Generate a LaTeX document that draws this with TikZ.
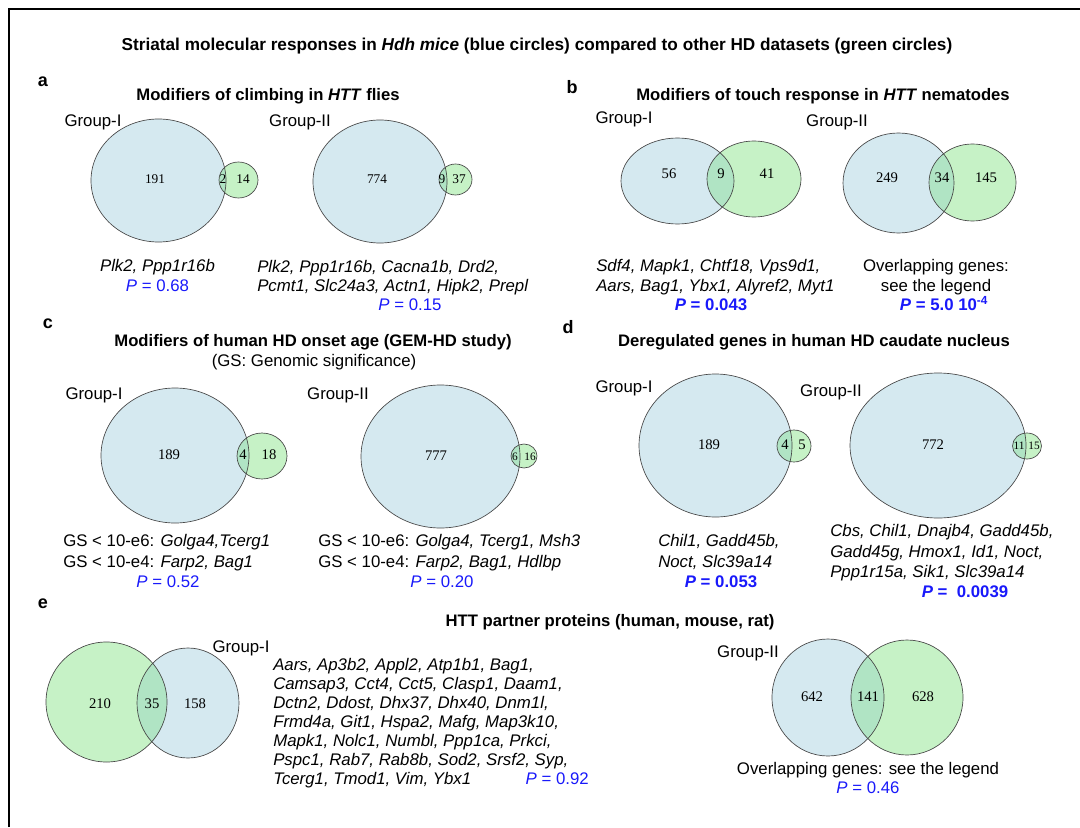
\documentclass[tikz,border=0pt]{standalone}
\usepackage{fontspec}
\setmainfont{Liberation Sans}
\newfontfamily\numfont{Liberation Serif}
\usetikzlibrary{positioning}

\definecolor{setblue}{RGB}{213,233,240}
\definecolor{setgreen}{RGB}{198,242,198}
\definecolor{setboth}{RGB}{176,228,196}
\definecolor{setedge}{RGB}{70,70,70}
\definecolor{pblue}{RGB}{25,25,250}

% one blue set and one green set, overlap shaded
\newcommand{\vennpair}[8]{%
  \fill[setblue] (#1,#2) ellipse [x radius=#3, y radius=#4];
  \fill[setgreen] (#5,#6) ellipse [x radius=#7, y radius=#8];
  \begin{scope}
    \clip (#1,#2) ellipse [x radius=#3, y radius=#4];
    \fill[setboth] (#5,#6) ellipse [x radius=#7, y radius=#8];
  \end{scope}
  \draw[setline] (#1,#2) ellipse [x radius=#3, y radius=#4];
  \draw[setline] (#5,#6) ellipse [x radius=#7, y radius=#8];
}

\begin{document}
\begin{tikzpicture}[x=0.75pt,y=-0.75pt]
% Text and set styles
\tikzset{
    setline/.style={draw=setedge, line width=0.5pt},
    lbl/.style={font=\fontsize{12.6}{14}\selectfont, inner sep=0pt, anchor=mid},
    gene/.style={font=\fontsize{12.6}{14}\selectfont\itshape, inner sep=0pt, anchor=mid west},
    head/.style={font=\fontsize{12.5}{14}\selectfont\bfseries, inner sep=0pt, anchor=mid},
    panel/.style={font=\fontsize{13.5}{15}\selectfont\bfseries, inner sep=0pt, anchor=mid},
    pval/.style={lbl, text=pblue},
    pbold/.style={lbl, text=pblue, font=\fontsize{12.6}{14}\selectfont\bfseries},
    num/.style={font=\numfont\fontsize{11}{12}\selectfont, inner sep=0pt, anchor=mid},
    numa/.style={num, font=\numfont\fontsize{10}{11}\selectfont},
    nums/.style={num, font=\numfont\fontsize{8.5}{9}\selectfont}
}
\useasboundingbox (0,0) rectangle (1080,827);

% Frame
\draw[line width=1.1pt] (9,827) -- (9,9) -- (1080,9);

\node[head, font=\fontsize{12.9}{14}\selectfont\bfseries] (Title) at (537,47) {Striatal molecular responses in \textit{Hdh mice} (blue circles) compared to other HD datasets (green circles)};

% Panel a
\node[panel] (PA) at (43,83) {a};
\node[head] (TA) at (268,97) {Modifiers of climbing in \textit{HTT} flies};
\node[lbl] (GA1) at (93,123) {Group-I};
\node[lbl] (GA2) at (300,123) {Group-II};
\vennpair{158.5}{180.5}{67.5}{61.5}{238.5}{180}{19.5}{18}
\vennpair{380}{181.5}{67}{61.5}{455.5}{179.5}{16.5}{15.5}
\node[numa] (A1L) at (155,180) {191};
\node[numa] (A1M) at (223,180) {2};
\node[numa] (A1R) at (243,180) {14};
\node[numa] (A2L) at (377,180) {774};
\node[numa] (A2M) at (442,180) {9};
\node[numa] (A2R) at (459,180) {37};
\node[lbl] (GeneA1) at (157.5,268) {\textit{Plk2, Ppp1r16b}};
\node[pval] (PA1) at (157.5,288) {\textit{P} = 0.68};
\node[gene] (GeneA2a) at (257,269) {Plk2, Ppp1r16b, Cacna1b, Drd2,};
\node[gene] (GeneA2b) at (257,288) {Pcmt1, Slc24a3, Actn1, Hipk2, Prepl};
\node[pval] (PA2) at (410,307) {\textit{P} = 0.15};

% Panel b
\node[panel] (PB) at (572,90) {b};
\node[head] (TB) at (823,97) {Modifiers of touch response in \textit{HTT} nematodes};
\node[lbl] (GB1) at (624,120) {Group-I};
\node[lbl] (GB2) at (837,123) {Group-II};
\vennpair{677.5}{181}{56.5}{43}{754}{179}{47}{38}
\vennpair{898.5}{183}{55.5}{50}{972.5}{182.5}{43.5}{38.5}
\node[num] (B1L) at (669,175) {56};
\node[num] (B1M) at (721,175) {9};
\node[num] (B1R) at (767,175) {41};
\node[num] (B2L) at (887,179) {249};
\node[num] (B2M) at (942,179) {34};
\node[num] (B2R) at (986,179) {145};
\node[gene] (GeneB1a) at (596,268) {Sdf4, Mapk1, Chtf18, Vps9d1,};
\node[gene] (GeneB1b) at (596,288) {Aars, Bag1, Ybx1, Alyref2, Myt1};
\node[pbold] (PB1) at (711,307) {\textit{P} = 0.043};
\node[lbl] (OvB2a) at (936,268) {Overlapping genes:};
\node[lbl] (OvB2b) at (936,288) {see the legend};
\node[pbold] (PB2) at (944,307) {\textit{P} = 5.0 10\textsuperscript{-4}};

% Panel c
\node[panel] (PC) at (48,325) {c};
\node[head] (TC) at (313,343) {Modifiers of human HD onset age (GEM-HD study)};
\node[lbl] (TC2) at (314,363) {(GS: Genomic significance)};
\node[lbl] (GC1) at (94,396) {Group-I};
\node[lbl] (GC2) at (338,396) {Group-II};
\vennpair{175}{455.5}{74}{67.5}{262}{456}{25}{23}
\vennpair{440.5}{456.5}{79.5}{71.5}{524}{456}{13}{12}
\node[num] (C1L) at (169,456) {189};
\node[num] (C1M) at (243,456) {4};
\node[num] (C1R) at (269,456) {18};
\node[num] (C2L) at (436,457) {777};
\node[nums] (C2M) at (515,457) {6};
\node[nums] (C2R) at (530,457) {16};
\node[lbl, anchor=mid west] (GeneC1a) at (63,543) {GS < 10-e6: \textit{Golga4,Tcerg1}};
\node[lbl, anchor=mid west] (GeneC1b) at (63,564) {GS < 10-e4: \textit{Farp2, Bag1}};
\node[pval] (PC1) at (168,584) {\textit{P} = 0.52};
\node[lbl, anchor=mid west] (GeneC2a) at (318,543) {GS < 10-e6: \textit{Golga4, Tcerg1, Msh3}};
\node[lbl, anchor=mid west] (GeneC2b) at (318,564) {GS < 10-e4: \textit{Farp2, Bag1, Hdlbp}};
\node[pval] (PC2) at (442,584) {\textit{P} = 0.20};

% Panel d
\node[panel] (PD) at (568,330) {d};
\node[head] (TD) at (814,343) {Deregulated genes in human HD caudate nucleus};
\node[lbl] (GD1) at (624,389) {Group-I};
\node[lbl] (GD2) at (831,393) {Group-II};
\vennpair{715.5}{445.5}{76.5}{71.5}{794}{446}{17}{16}
\vennpair{938}{445.5}{88}{72.5}{1027}{446}{14.5}{13}
\node[num] (D1L) at (709,446) {189};
\node[num] (D1M) at (785,446) {4};
\node[num] (D1R) at (802,446) {5};
\node[num] (D2L) at (933,446) {772};
\node[nums] (D2M) at (1019,446) {11};
\node[nums] (D2R) at (1034,446) {15};
\node[gene] (GeneD1a) at (658,543) {Chil1, Gadd45b,};
\node[gene] (GeneD1b) at (658,564) {Noct, Slc39a14};
\node[pbold] (PD1) at (721,584) {\textit{P} = 0.053};
\node[gene] (GeneD2a) at (830,533) {Cbs, Chil1, Dnajb4, Gadd45b,};
\node[gene] (GeneD2b) at (830,554) {Gadd45g, Hmox1, Id1, Noct,};
\node[gene] (GeneD2c) at (830,574) {Ppp1r15a, Sik1, Slc39a14};
\node[pbold] (PD2) at (965,594) {\textit{P} =\ \ 0.0039};

% Panel e
\node[panel] (PE) at (43,605) {e};
\node[head] (TE) at (610,623) {HTT partner proteins (human, mouse, rat)};
\vennpair{188}{703}{51}{55}{106.5}{702}{60.5}{60}
\node[num] (E1L) at (100,705) {210};
\node[num] (E1M) at (152,705) {35};
\node[num] (E1R) at (195,705) {158};
\node[lbl] (GE1) at (241,649) {Group-I};
\node[gene] (GeneE1a) at (273,667) {Aars, Ap3b2, Appl2, Atp1b1, Bag1,};
\node[gene] (GeneE1b) at (273,686) {Camsap3, Cct4, Cct5, Clasp1, Daam1,};
\node[gene] (GeneE1c) at (273,705) {Dctn2, Ddost, Dhx37, Dhx40, Dnm1l,};
\node[gene] (GeneE1d) at (273,724) {Frmd4a, Git1, Hspa2, Mafg, Map3k10,};
\node[gene] (GeneE1e) at (273,743) {Mapk1, Nolc1, Numbl, Ppp1ca, Prkci,};
\node[gene] (GeneE1f) at (273,762) {Pspc1, Rab7, Rab8b, Sod2, Srsf2, Syp,};
\node[gene] (GeneE1g) at (273,781) {Tcerg1, Tmod1, Vim, Ybx1};
\node[pval, anchor=mid east] (PE1) at (589,781) {\textit{P} = 0.92};
\node[lbl] (GE2) at (748,654) {Group-II};
\vennpair{828}{697.5}{56}{58.5}{907}{697.5}{56}{57.5}
\node[num] (E2L) at (812,698) {642};
\node[num] (E2M) at (868,698) {141};
\node[num] (E2R) at (923,698) {628};
\node[lbl] (OvE2) at (868,771) {Overlapping genes: see the legend};
\node[pval] (PE2) at (868,790) {\textit{P} = 0.46};
\end{tikzpicture}
\end{document}
